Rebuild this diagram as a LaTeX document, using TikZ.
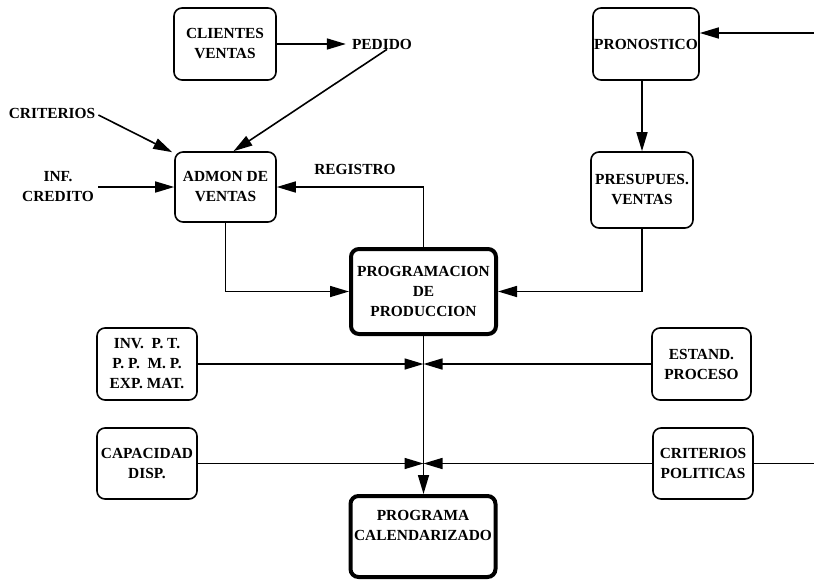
\documentclass[tikz,border=0pt]{standalone}
\usepackage{fontspec}
\setmainfont{Liberation Serif}
\usetikzlibrary{arrows.meta}
\begin{document}
\begin{tikzpicture}[x=1pt,y=-1pt,
  every node/.style={font=\fontsize{15.4}{20}\selectfont\bfseries, align=center, inner sep=0pt},
  box/.style={draw, line width=1.6pt, rounded corners=8pt},
  bigbox/.style={draw, line width=4pt, rounded corners=8pt},
  flow/.style={line width=1.6pt, -{Triangle[length=19pt,width=11pt]}},
  plain/.style={line width=1.6pt}]
\useasboundingbox (0,0) rectangle (814,581);

% process boxes
\node[box, minimum width=102pt, minimum height=72pt] (cli) at (225,44) {CLIENTES\\VENTAS};
\node[box, minimum width=101pt, minimum height=70pt] (admon) at (225.5,187) {ADMON DE\\VENTAS};
\node[box, minimum width=106pt, minimum height=72pt] (pron) at (646,44) {PRONOSTICO};
\node[box, minimum width=102pt, minimum height=76pt] (pres) at (642,190) {PRESUPUES.\\VENTAS};
\node[bigbox, minimum width=145pt, minimum height=85pt] (prog) at (423.5,291.5) {PROGRAMACION\\DE\\PRODUCCION};
\node[box, minimum width=100pt, minimum height=72pt] (inv) at (147,364) {INV.\ \ P. T.\\P. P.\ \ M. P.\\EXP. MAT.};
\node[box, minimum width=99pt, minimum height=72pt] (est) at (701.5,364) {ESTAND.\\PROCESO};
\node[box, minimum width=100pt, minimum height=71pt] (cap) at (147,463.5) {CAPACIDAD\\DISP.};
\node[box, minimum width=100pt, minimum height=71pt] (cpol) at (703,463.5) {CRITERIOS\\POLITICAS};
\node[bigbox, minimum width=145pt, minimum height=81pt] (cal) at (423,536.5) {PROGRAMA\\CALENDARIZADO\\[2pt]};

% free labels
\node (ped) at (382,44) {PEDIDO};
\node (crit) at (52,113) {CRITERIOS};
\node (inf) at (58,187) {INF.\\CREDITO};
\node (reg) at (355,169) {REGISTRO};

% junction points on the main vertical flow
\coordinate (j1) at (423.5,364);
\coordinate (j2) at (423.5,463.5);
\coordinate (pin) at (814,33);
\coordinate (cout) at (814,463.5);

% connectors
\draw[flow] (cli.east) -- ([xshift=-6pt]ped.west);
\draw[flow] ([xshift=5pt]ped.south) -- ([xshift=8pt]admon.north);
\draw[flow] ([xshift=3pt,yshift=-2pt]crit.east) -- ([xshift=-2pt,yshift=-1pt]admon.north west);
\draw[flow] ([xshift=4pt]inf.east) -- (inf.east -| admon.west);
\draw[flow] (prog.north) |- (admon.east);
\draw[flow] (pin) -- (pin -| pron.east);
\draw[flow] (pres.north |- pron.south) -- (pres.north);
\draw[flow] (admon.south) |- (prog.west);
\draw[flow] (pres.south) |- (prog.east);
\draw[plain] (prog.south) -- (j1);
\draw[plain] (j1) -- (j2);
\draw[flow] (j2) -- (j2 |- cal.north);
\draw[flow] (inv.east) -- (j1);
\draw[flow] (est.west) -- (j1);
\draw[flow] (cap.east) -- (j2);
\draw[flow] (cpol.west) -- (j2);
\draw[plain] (cpol.east) -- (cout);
\end{tikzpicture}
\end{document}
